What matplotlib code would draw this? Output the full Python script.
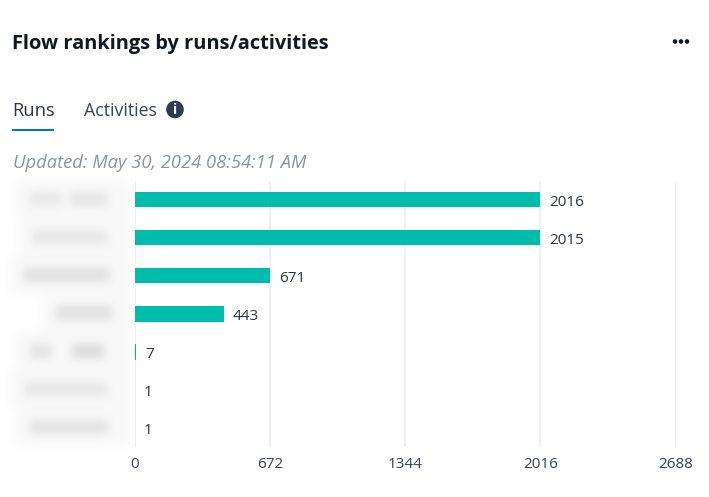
import matplotlib
matplotlib.use('Agg')
import matplotlib.pyplot as plt
from matplotlib.patches import Circle, Rectangle
import numpy as np

values = [2016, 2015, 671, 443, 7, 1, 1]
ticks = [0, 672, 1344, 2016, 2688]
title = 'Flow rankings by runs/activities'
updated = 'Updated: May 30, 2024 08:54:11 AM'
# the category names are blurred out in the source, so only smudges are drawn
smudges = [
    [(30, 62, 0.16), (70, 108, 0.18)],
    [(32, 108, 0.17)],
    [(24, 110, 0.22)],
    [(56, 112, 0.22)],
    [(30, 52, 0.20), (72, 104, 0.26)],
    [(24, 108, 0.17)],
    [(30, 108, 0.20)],
]

plt.rcParams['font.family'] = ['Open Sans', 'DejaVu Sans']
W, H = 709, 497
fig = plt.figure(figsize=(W / 100, H / 100), dpi=100, facecolor='white')


def blur(a, sigma):
    r = int(sigma * 3)
    k = np.exp(-0.5 * (np.arange(-r, r + 1) / sigma) ** 2)
    k = k / k.sum()
    a = np.apply_along_axis(lambda v: np.convolve(v, k, mode='same'), 0, a)
    a = np.apply_along_axis(lambda v: np.convolve(v, k, mode='same'), 1, a)
    return a


# blurred label column
alpha = np.zeros((H, 135))
for i, row in enumerate(smudges):
    yc = 199 + i * 38.1
    for x0, x1, level in row:
        alpha[int(yc - 7):int(yc + 7), x0:x1] = level
    # pale halo round each label
    halo = np.zeros((H, 135))
    halo[int(yc - 19):int(yc + 19), min(r[0] for r in row) - 14:130] = 0.045
    alpha = np.maximum(alpha, halo)
alpha = blur(alpha, 4.5)
rgba = np.zeros((H, 135, 4))
rgba[..., :3] = 0.45
rgba[..., 3] = alpha
fig.figimage(rgba, xo=0, yo=0, origin='upper', zorder=0)

# chart
ax = fig.add_axes([134.5 / W, 1 - 447 / H, (675.5 - 134.5) / W, (447 - 180.5) / H])
ax.patch.set_alpha(0)
y = np.arange(len(values))
ax.barh(y, values, height=0.41, color='#00bcab', linewidth=0, zorder=3)
for yi, v in zip(y, values):
    ax.annotate(str(v), (v, yi), xytext=(6.8, -2), textcoords='offset points',
                va='center', ha='left', fontsize=11, color='#2c3540')
ax.set_xlim(0, 2688)
ax.set_ylim(len(values) - 0.5, -0.5)
ax.set_xticks(ticks)
ax.set_yticks([])
ax.tick_params(axis='x', length=0, pad=7.5, labelsize=11, labelcolor='#39424e')
ax.grid(axis='x', color='#eeeeee', linewidth=1.3, zorder=0)
ax.set_axisbelow(True)
for s in ax.spines.values():
    s.set_visible(False)

# header, drawn in pixel coordinates
top = fig.add_axes([0, 0, 1, 1])
top.set_xlim(0, W)
top.set_ylim(H, 0)
top.axis('off')
top.patch.set_alpha(0)
top.text(12, 44, title, fontsize=14.45, fontweight='bold', color='#11181f', va='center')
top.text(12, 110.5, 'Runs', fontsize=13.2, color='#2c3540', va='center')
top.text(84, 110.5, 'Activities', fontsize=12.8, color='#39424e', va='center')
top.add_patch(Rectangle((12, 128.5), 42, 2, color='#00838f', lw=0))
top.add_patch(Circle((175, 109.5), 8.8, color='#2f3b52', lw=0))
top.text(175, 109.5, 'i', fontsize=10, fontweight='bold', color='white', ha='center', va='center')
top.text(13, 163, updated, fontsize=13.2, style='italic', color='#8a939e', va='center')
for x in [675, 681, 687]:
    top.add_patch(Circle((x, 41.5), 2.3, color='#11181f', lw=0))

fig.savefig('out.png', dpi=100)
